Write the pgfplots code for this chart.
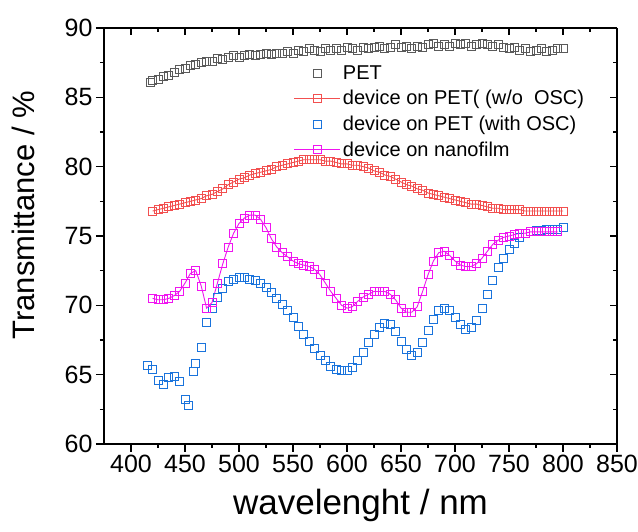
\documentclass[border=0pt]{standalone}
\usepackage{fontspec}
\setmainfont{Liberation Sans}
\usepackage{pgfplots}
\pgfplotsset{compat=1.18}

\definecolor{petgray}{RGB}{90,90,90}
\definecolor{wored}{RGB}{242,80,80}
\definecolor{wiblue}{RGB}{25,115,220}
\definecolor{nanomag}{RGB}{240,20,240}

% open squares with the colour set inside the mark itself
\newcommand\sqmark[2]{%
  \pgfdeclareplotmark{#1}{%
    \pgfsetstrokecolor{#2}\pgfsetlinewidth{0.8pt}%
    \pgfpathrectangle{\pgfqpoint{-\pgfplotmarksize}{-\pgfplotmarksize}}%
      {\pgfqpoint{2\pgfplotmarksize}{2\pgfplotmarksize}}%
    \pgfusepathqstroke}}
\sqmark{sqpet}{petgray}
\sqmark{sqred}{wored}
\sqmark{sqblue}{wiblue}
\sqmark{sqmag}{nanomag}

\pgfplotstableread{
x y
418 86.1
420 86.2
425 86.3
430 86.5
435 86.6
440 86.8
445 87.0
450 87.1
455 87.3
460 87.4
465 87.5
470 87.6
475 87.6
480 87.8
485 87.7
490 87.9
495 88.0
500 87.9
505 88.0
510 88.1
515 88.0
520 88.1
525 88.2
530 88.1
535 88.2
540 88.2
545 88.3
550 88.2
555 88.4
560 88.3
565 88.5
570 88.4
575 88.3
580 88.5
585 88.4
590 88.5
595 88.4
600 88.6
605 88.5
610 88.4
615 88.6
620 88.5
625 88.6
630 88.7
635 88.5
640 88.6
645 88.8
650 88.6
655 88.7
660 88.5
665 88.7
670 88.6
675 88.8
680 88.9
685 88.7
690 88.8
695 88.7
700 88.9
705 88.8
710 88.9
715 88.7
720 88.8
725 88.9
730 88.8
735 88.7
740 88.8
745 88.6
750 88.5
755 88.6
760 88.4
765 88.5
770 88.3
775 88.4
780 88.5
785 88.3
790 88.4
795 88.5
800 88.5
}\tabpet

\pgfplotstableread{
x y
420 76.8
425 76.9
430 77.0
435 77.1
440 77.2
445 77.3
450 77.4
455 77.5
460 77.6
465 77.7
470 77.9
475 78.0
480 78.2
485 78.4
490 78.7
495 78.9
500 79.1
505 79.2
510 79.4
515 79.5
520 79.6
525 79.7
530 79.8
535 80.0
540 80.1
545 80.2
550 80.3
555 80.4
560 80.5
565 80.5
570 80.5
575 80.5
580 80.4
585 80.4
590 80.3
595 80.2
600 80.2
605 80.1
610 80.1
615 80.0
620 79.9
625 79.7
630 79.6
635 79.4
640 79.3
645 79.1
650 78.9
655 78.7
660 78.6
665 78.4
670 78.3
675 78.1
680 78.0
685 77.9
690 77.8
695 77.7
700 77.6
705 77.5
710 77.4
715 77.3
720 77.3
725 77.2
730 77.1
735 77.0
740 77.0
745 76.9
750 76.9
755 76.9
760 76.9
765 76.8
770 76.8
775 76.8
780 76.8
785 76.8
790 76.8
795 76.8
800 76.8
}\tabwoosc

\pgfplotstableread{
x y
415 65.7
420 65.4
425 64.6
430 64.3
435 64.8
440 64.9
445 64.5
450 63.2
453 62.8
458 65.2
460 65.8
465 67.0
470 68.8
475 69.8
480 70.6
485 71.2
490 71.7
495 71.9
500 72.0
505 72.0
510 71.9
515 71.8
520 71.6
525 71.3
530 70.9
535 70.5
540 70.1
545 69.6
550 69.1
555 68.5
560 67.9
565 67.4
570 66.9
575 66.4
580 66.0
585 65.6
590 65.4
595 65.3
600 65.3
605 65.5
610 66.0
615 66.6
620 67.3
625 67.9
630 68.4
635 68.7
640 68.6
645 68.1
650 67.4
655 66.8
660 66.4
665 66.6
670 67.3
675 68.2
680 69.0
685 69.6
690 69.8
695 69.6
700 69.1
705 68.6
710 68.3
715 68.4
720 68.9
725 69.8
730 70.8
735 71.8
740 72.7
745 73.4
750 74.0
755 74.5
760 74.9
765 75.2
770 75.3
775 75.4
780 75.4
785 75.5
790 75.5
795 75.5
800 75.6
}\tabwithosc

\pgfplotstableread{
x y
420 70.5
425 70.4
430 70.4
435 70.5
440 70.7
445 71.0
450 71.6
455 72.3
460 72.5
465 71.4
470 69.8
475 70.2
480 71.6
485 73.0
490 74.2
495 75.2
500 75.9
505 76.3
510 76.5
515 76.5
520 76.2
525 75.6
530 74.8
535 74.2
540 73.8
545 73.5
550 73.2
555 73.0
560 72.9
565 72.8
570 72.6
575 72.2
580 71.6
585 71.0
590 70.5
595 70.0
600 69.8
605 69.9
610 70.3
615 70.6
620 70.8
625 71.0
630 71.0
635 71.0
640 70.8
645 70.4
650 69.8
655 69.5
660 69.5
665 69.9
670 71.0
675 72.2
680 73.2
685 73.8
690 73.9
695 73.6
700 73.2
705 72.9
710 72.8
715 72.8
720 73.0
725 73.4
730 73.9
735 74.4
740 74.7
745 74.9
750 75.0
755 75.1
760 75.2
765 75.2
770 75.3
775 75.3
780 75.3
785 75.3
790 75.3
795 75.3
}\tabnano

\begin{document}
\begin{tikzpicture}
\begin{axis}[
    name=ax,
    scale only axis,
    width=513pt, height=416pt,
    xmin=375, xmax=850, ymin=60, ymax=90,
    xtick={400,450,...,850}, ytick={60,65,...,90},
    minor x tick num=1, minor y tick num=1,
    axis x line*=bottom, axis y line*=left,
    tick align=outside,
    major tick length=8pt, minor tick length=4pt,
    axis line style={line width=1.3pt},
    every tick/.style={line width=1.1pt},
    /pgf/number format/assume math mode=true,
    ticklabel style={font=\fontsize{25}{28}\selectfont},
    xlabel={wavelenght / nm},
    ylabel={Transmittance / \%},
    xlabel style={font=\fontsize{35}{40}\selectfont, at={(axis description cs:0.5,-0.147)}, anchor=center},
    ylabel style={font=\fontsize{31}{36}\selectfont, at={(axis description cs:-0.158,0.55)}, anchor=center},
    mark size=4pt,
    legend style={at={(axis cs:548,87.6)}, anchor=north west, draw=none, fill=none,
        font=\fontsize{20}{24}\selectfont, row sep=5.7pt,
        nodes={inner sep=2pt}},
    legend cell align=left,
]
\addplot[only marks, mark=sqpet,
    legend image code/.code={\pgfuseplotmark{sqpet}}] table {\tabpet};
\addlegendentry{PET}
\addplot[draw=wored, line width=0.9pt, mark=sqred,
    legend image code/.code={\draw[wored, line width=0.9pt] (-23pt,0pt) -- (23pt,0pt); \pgfuseplotmark{sqred}}] table {\tabwoosc};
\addlegendentry{device on PET( (w/o\ \ OSC)}
\addplot[only marks, mark=sqblue,
    legend image code/.code={\pgfuseplotmark{sqblue}}] table {\tabwithosc};
\addlegendentry{device on PET (with OSC)}
\addplot[draw=nanomag, line width=0.9pt, mark=sqmag,
    legend image code/.code={\draw[nanomag, line width=0.9pt] (-23pt,0pt) -- (23pt,0pt); \pgfuseplotmark{sqmag}}] table {\tabnano};
\addlegendentry{device on nanofilm}
\end{axis}
\begin{axis}[
    scale only axis,
    width=513pt, height=416pt,
    xmin=375, xmax=850, ymin=60, ymax=90,
    xtick={400,450,...,850}, ytick={60,65,...,90},
    minor x tick num=1, minor y tick num=1,
    axis x line*=top, axis y line*=right,
    tick align=inside,
    major tick length=7pt, minor tick length=4pt,
    axis line style={line width=1.3pt},
    every tick/.style={line width=1.1pt},
    xticklabels={}, yticklabels={},
]
\end{axis}
\pgfresetboundingbox
\path ([shift={(-104pt,-88pt)}]ax.south west) rectangle ++(638pt,532pt);
\end{tikzpicture}
\end{document}
